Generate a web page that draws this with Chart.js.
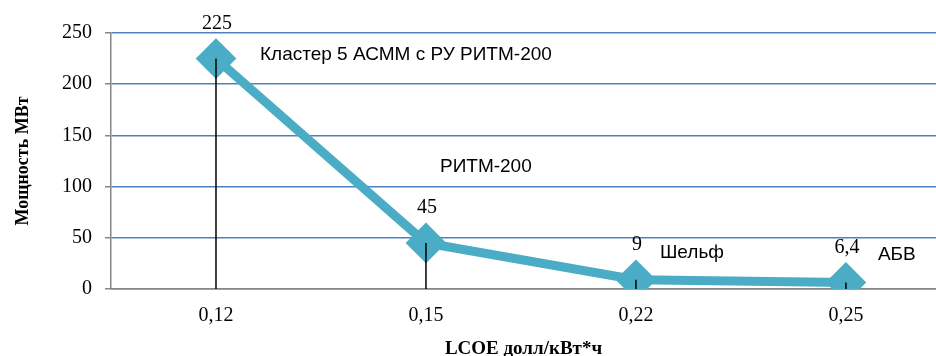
<!DOCTYPE html>
<html>
<head>
<meta charset="utf-8">
<script src="https://cdn.jsdelivr.net/npm/chart.js@4.4.0/dist/chart.umd.min.js"></script>
<style>
  html,body{margin:0;padding:0;background:#fff;}
  #wrap{width:936px;height:356px;}
</style>
</head>
<body>
<div id="wrap"><canvas id="lcoeChart"></canvas></div>
<script>
// data
const categories = ['0,12', '0,15', '0,22', '0,25'];
const power = [225, 45, 9, 6.4];
const valueLabels = ['225', '45', '9', '6,4'];
const notes = ['Кластер 5 АСММ с РУ РИТМ-200', 'РИТМ-200', 'Шельф', 'АБВ'];
const yTicks = [0, 50, 100, 150, 200, 250];

// where each note sits relative to its point (px)
const noteOffsets = [[44, -4], [14, -76], [24, -27], [32, -28]];

const serif = "'Liberation Serif', 'Times New Roman', serif";
const sans = "'Liberation Sans', Arial, sans-serif";

const pointExtras = {
  id: 'pointExtras',
  afterDatasetsDraw(chart) {
    const ctx = chart.ctx;
    const pts = chart.getDatasetMeta(0).data;
    const y0 = chart.scales.y.getPixelForValue(0);
    ctx.save();
    // drop lines
    ctx.strokeStyle = '#000';
    ctx.lineWidth = 1.5;
    pts.forEach(p => {
      ctx.beginPath();
      ctx.moveTo(p.x, p.y);
      ctx.lineTo(p.x, y0);
      ctx.stroke();
    });
    ctx.fillStyle = '#000';
    ctx.textBaseline = 'middle';
    // values
    ctx.font = '20px ' + serif;
    ctx.textAlign = 'center';
    pts.forEach((p, i) => ctx.fillText(valueLabels[i], p.x + 1, p.y - 35));
    // notes
    ctx.font = '19px ' + sans;
    ctx.textAlign = 'left';
    pts.forEach((p, i) => ctx.fillText(notes[i], p.x + noteOffsets[i][0], p.y + noteOffsets[i][1]));
    ctx.restore();
  }
};

new Chart(document.getElementById('lcoeChart'), {
  type: 'line',
  data: {
    datasets: [{
      data: power.map((v, i) => ({x: i, y: v})),
      borderColor: '#4bacc6',
      backgroundColor: '#4bacc6',
      borderWidth: 9,
      pointStyle: 'rectRot',
      pointRadius: 14,
      pointHoverRadius: 14,
      tension: 0,
      fill: false
    }]
  },
  options: {
    responsive: true,
    maintainAspectRatio: false,
    animation: false,
    events: [],
    layout: {autoPadding: false, padding: {top: 33, right: 0, left: 0, bottom: 0}},
    plugins: {legend: {display: false}, tooltip: {enabled: false}},
    scales: {
      x: {
        type: 'linear',
        min: -0.5,
        max: 3.429,
        afterBuildTicks: s => { s.ticks = categories.map((c, i) => ({value: i})); },
        afterFit: s => { s.height = 67; s.paddingLeft = 0; s.paddingRight = 0; },
        ticks: {
          callback: v => categories[v],
          color: '#000',
          font: {family: serif, size: 20},
          padding: 15,
          maxRotation: 0
        },
        grid: {display: false, drawTicks: false},
        border: {color: '#868686', width: 1.5},
        title: {
          display: true,
          text: 'LCOE долл/кВт*ч',
          color: '#000',
          font: {family: serif, size: 19, weight: 'bold', lineHeight: 1},
          padding: {top: 0, bottom: -3}
        }
      },
      y: {
        min: 0,
        max: 250,
        afterBuildTicks: s => { s.ticks = yTicks.map(v => ({value: v})); },
        afterFit: s => { s.width = 111; },
        ticks: {
          color: '#000',
          font: {family: serif, size: 20},
          padding: 13
        },
        grid: {color: '#4f81bd', lineWidth: 1.5, tickColor: '#868686', tickLength: 6},
        border: {color: '#868686', width: 1.5},
        title: {
          display: true,
          text: 'Мощность МВт',
          color: '#000',
          font: {family: serif, size: 18, weight: 'bold'},
          padding: {top: 13, bottom: 0}
        }
      }
    }
  },
  plugins: [pointExtras]
});
</script>
</body>
</html>
